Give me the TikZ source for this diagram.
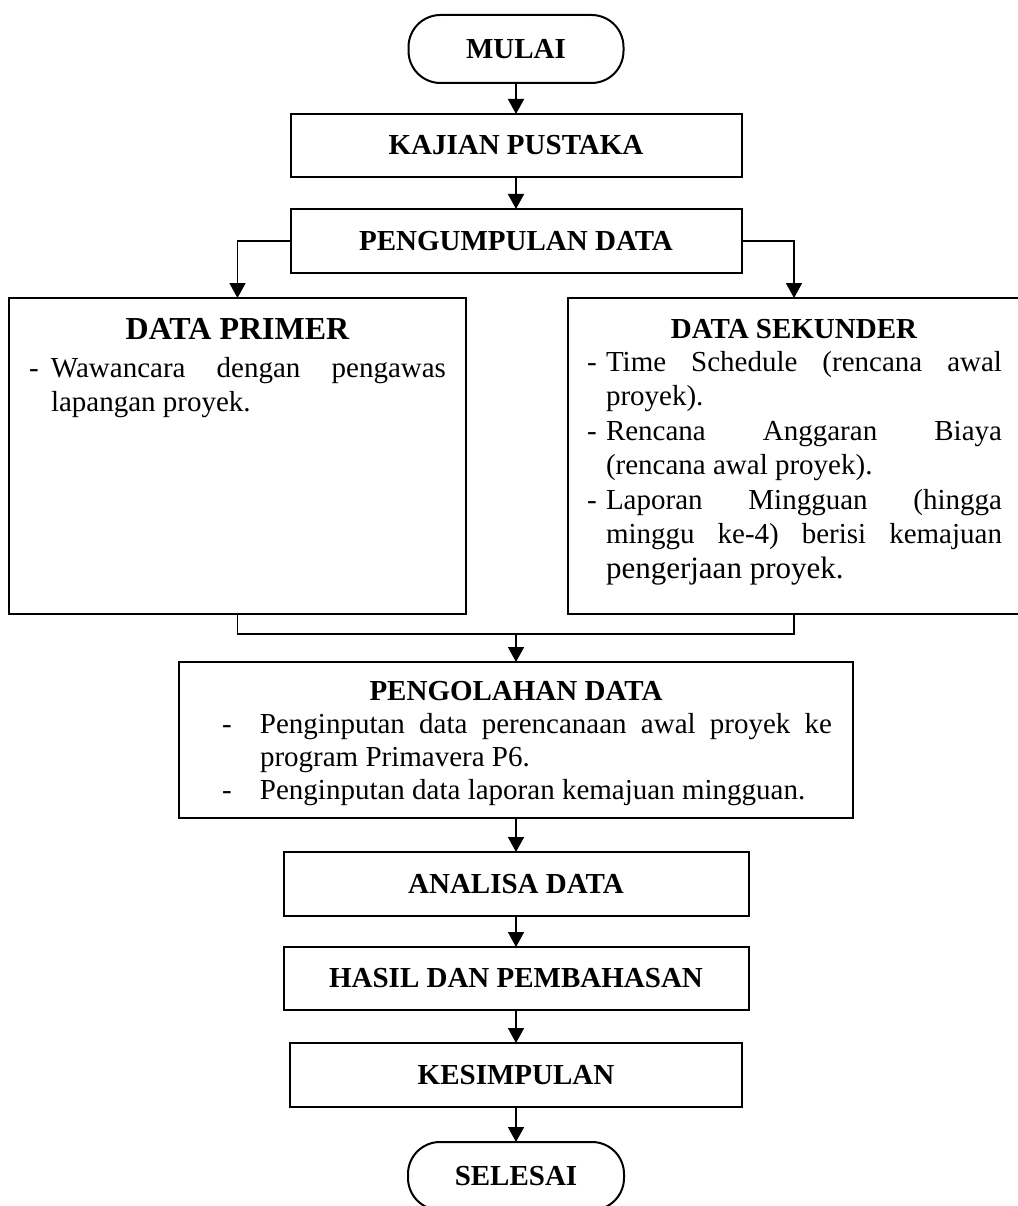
\documentclass[tikz,border=0pt]{standalone}
\usepackage{fontspec}
\setmainfont{Liberation Serif}
\usetikzlibrary{arrows.meta}
\newcommand\fctitle{\fontsize{29}{34}\selectfont\bfseries}
\newcommand\fctitleL{\fontsize{32}{36}\selectfont\bfseries}
\newcommand\fcbody{\fontsize{29}{34.5}\selectfont\tolerance=10000\hbadness=10000\hyphenpenalty=10000}
\newcommand\fstrut{\rule{0pt}{22pt}}
\begin{document}
\begin{tikzpicture}[x=1pt,y=-1pt,
  every node/.style={inner sep=0pt, outer sep=0pt},
  term/.style={draw, line width=2pt, rounded corners=32pt, minimum width=#1, minimum height=68pt, font=\fctitle},
  box/.style={draw, line width=2pt, minimum width=#1, font=\fctitle},
  flow/.style={line width=1.6pt, -{Triangle[length=15pt,width=16pt]}},
  thinline/.style={line width=1.2pt},
  body/.style={anchor=north west, align=justify, font=\fcbody}]
\useasboundingbox (0,0) rectangle (1017,1206);

% main column
\node[term=215pt] (mulai) at (516,49) {MULAI};
\node[box=451pt, minimum height=63pt] (kajian) at (516,145.5) {KAJIAN PUSTAKA};
\node[box=451pt, minimum height=64pt] (pengumpulan) at (516,241) {PENGUMPULAN DATA};

% data boxes
\node[box=457pt, minimum height=316pt] (primer) at (237.5,456) {};
\node[box=453pt, minimum height=316pt] (sekunder) at (794,456) {};
\node[anchor=base, font=\fctitleL] (primertitle) at (237.5,339) {DATA PRIMER};
\node[anchor=base, font=\fctitle] (sekundertitle) at (794,338) {DATA SEKUNDER};
\node[body, text width=417pt] (primertext) at (29,355) {%
  \hangindent=22pt\hangafter=1\noindent\fstrut\makebox[22pt][l]{-}Wawancara dengan pengawas\linebreak lapangan proyek.\par};
\node[body, text width=415pt] (sekundertext) at (587,349) {%
  \hangindent=19pt\hangafter=1\noindent\fstrut\makebox[19pt][l]{-}Time Schedule (rencana awal\linebreak proyek).\par
  \hangindent=19pt\hangafter=1\noindent\makebox[19pt][l]{-}Rencana Anggaran Biaya\linebreak (rencana awal proyek).\par
  \hangindent=19pt\hangafter=1\noindent\makebox[19pt][l]{-}Laporan Mingguan (hingga\linebreak minggu ke-4) berisi kemajuan\linebreak {\fontsize{31}{34.5}\selectfont pengerjaan proyek.}\par};

% processing box
\node[box=674pt, minimum height=156pt] (pengolahan) at (516,740) {};
\node[anchor=base, font=\fctitle] (pengolahantitle) at (516,700) {PENGOLAHAN DATA};
\node[body, text width=610pt, font={\fontsize{29}{33}\selectfont\tolerance=10000\hbadness=10000\hyphenpenalty=10000}] (pengolahantext) at (222,711) {%
  \hangindent=38pt\hangafter=1\noindent\fstrut\makebox[38pt][l]{-}Penginputan data perencanaan awal proyek ke\linebreak program Primavera P6.\par
  \hangindent=38pt\hangafter=1\noindent\makebox[38pt][l]{-}Penginputan data laporan kemajuan mingguan.\par};

\node[box=465pt, minimum height=64pt] (analisa) at (516,884) {ANALISA DATA};
\node[box=465pt, minimum height=63pt] (hasil) at (516,978.5) {HASIL DAN PEMBAHASAN};
\node[box=452pt, minimum height=64pt] (kesimpulan) at (516,1075) {KESIMPULAN};
\node[term=216pt] (selesai) at (516,1176) {SELESAI};

% connectors
\draw[flow] (mulai.south) -- (kajian.north);
\draw[flow] (kajian.south) -- (pengumpulan.north);
\draw[flow] (pengumpulan.west) -| (primer.north);
\draw[flow] (pengumpulan.east) -| (sekunder.north);
\coordinate (merge) at (516,634);
\draw[thinline] (primer.south) |- (merge) -| (sekunder.south);
\draw[flow] (merge) -- (pengolahan.north);
\draw[flow] (pengolahan.south) -- (analisa.north);
\draw[flow] (analisa.south) -- (hasil.north);
\draw[flow] (hasil.south) -- (kesimpulan.north);
\draw[flow] (kesimpulan.south) -- (selesai.north);
\end{tikzpicture}
\end{document}
